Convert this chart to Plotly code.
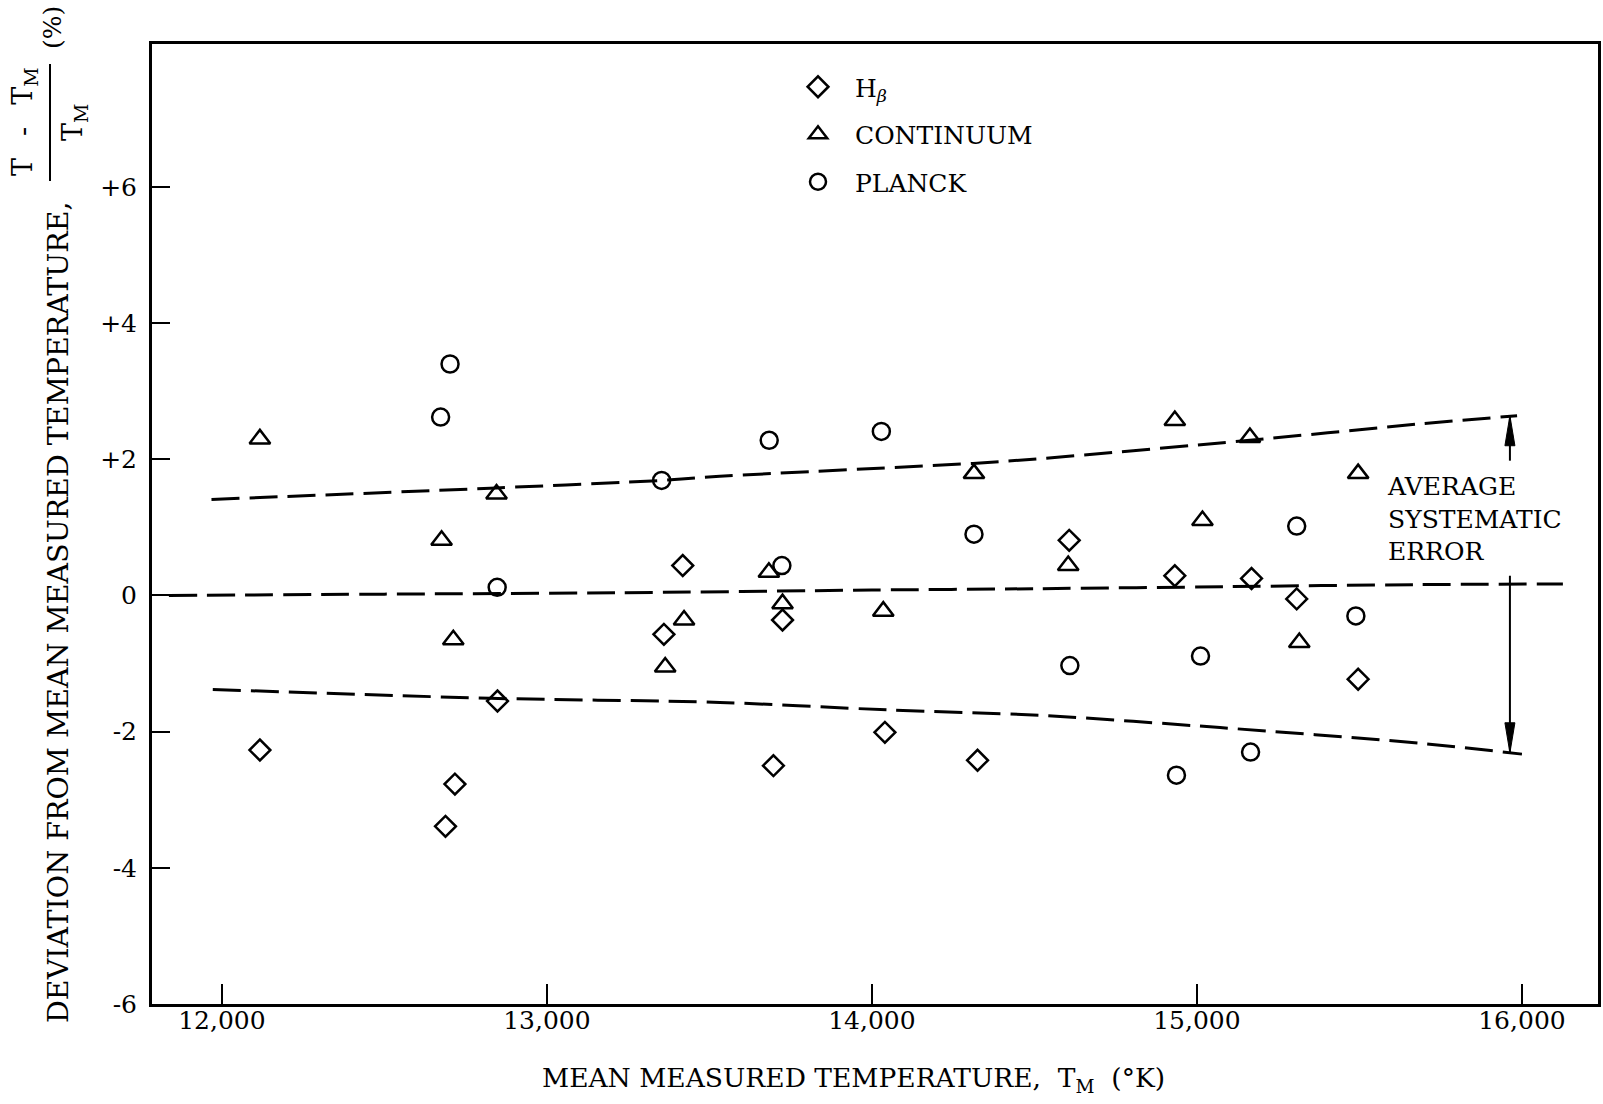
import plotly.graph_objects as go

# ---- measured points: mean temperature (K) and deviation (%) ----
hbeta_t = [12117, 12688, 12717, 12848, 13360, 13418, 13697, 13725, 14040,
           14325, 14607, 14932, 15168, 15307, 15496]
hbeta_dev = [-2.27, -3.39, -2.77, -1.55, -0.57, 0.44, -2.50, -0.36, -2.01,
             -2.42, 0.81, 0.29, 0.25, -0.05, -1.23]

cont_t = [12117, 12676, 12712, 12845, 13364, 13422, 13683, 13725, 14035,
          14314, 14604, 14932, 15017, 15163, 15315, 15496]
cont_dev = [2.30, 0.81, -0.65, 1.49, -1.05, -0.36, 0.34, -0.12, -0.23,
            1.79, 0.44, 2.57, 1.10, 2.32, -0.69, 1.79]

planck_t = [12673, 12702, 12847, 13353, 13684, 13723, 14029, 14314, 14609,
            14937, 15011, 15165, 15307, 15489]
planck_dev = [2.62, 3.40, 0.12, 1.69, 2.28, 0.44, 2.41, 0.90, -1.03,
              -2.64, -0.89, -2.30, 1.02, -0.30]

# ---- faired curves: mean and systematic-error band ----
upper_t = [11968, 12845, 13353, 13532, 14311, 14517, 15163, 15686, 15985]
upper_dev = [1.41, 1.58, 1.69, 1.75, 1.94, 2.01, 2.28, 2.52, 2.64]
mean_t = [11837, 12500, 13225, 14000, 14517, 15100, 15686, 16126]
mean_dev = [0.00, 0.02, 0.04, 0.08, 0.10, 0.13, 0.16, 0.17]
lower_t = [11972, 12825, 13532, 14046, 14517, 15071, 15686, 16000]
lower_dev = [-1.38, -1.51, -1.57, -1.68, -1.76, -1.94, -2.17, -2.33]

# ---- error-band arrows ----
arrow_t = 15963
arrow_up = (1.98, 2.64)      # tail, tip
arrow_down = (0.29, -2.31)   # tail, tip

# ---- axes ----
x_ticks = [12000, 13000, 14000, 15000, 16000]
x_ticktext = ["12,000", "13,000", "14,000", "15,000", "16,000"]
y_ticks = [-6, -4, -2, 0, 2, 4, 6]
y_ticktext = ["-6", "-4", "-2", "0", "+2", "+4", "+6"]
x_range = [11785, 16234]
y_range = [-6, 8.1]

FONT = "DejaVu Serif"
INK = "black"

W_PX, H_PX = 1603, 1104
L, R, T, B = 152, 1598, 44, 1004


def px(x):
    return (x - L) / (R - L)


def py(y):
    return (B - y) / (B - T)


fig = go.Figure()

dash = "28px,10px"
for xs, ys in [(upper_t, upper_dev), (mean_t, mean_dev), (lower_t, lower_dev)]:
    fig.add_trace(go.Scatter(
        x=xs, y=ys, mode="lines", showlegend=False, hoverinfo="skip",
        line=dict(color=INK, width=3, dash=dash, shape="spline", smoothing=0.8),
    ))

fig.add_trace(go.Scatter(
    x=hbeta_t, y=hbeta_dev, mode="markers", name="H<sub><i>β</i></sub>",
    legendgroup="a",
    marker=dict(symbol="diamond-open", size=16, color=INK, line=dict(width=2.5, color=INK)),
))
fig.add_trace(go.Scatter(
    x=cont_t, y=cont_dev, mode="markers", name="CONTINUUM",
    legendgroup="b",
    marker=dict(symbol="triangle-up-open", size=18, color=INK, line=dict(width=2.5, color=INK)),
))
fig.add_trace(go.Scatter(
    x=planck_t, y=planck_dev, mode="markers", name="PLANCK",
    legendgroup="c",
    marker=dict(symbol="circle-open", size=17, color=INK, line=dict(width=2.5, color=INK)),
))

shapes = []
# arrow stems
for tail, tip in (arrow_up, arrow_down):
    shapes.append(dict(type="line", xref="x", yref="y", x0=arrow_t, x1=arrow_t,
                       y0=tail, y1=tip, line=dict(color=INK, width=2)))
# narrow arrowheads, sized in pixels around the tips
shapes.append(dict(type="path", xref="x", yref="y", xsizemode="pixel", ysizemode="pixel",
                   xanchor=arrow_t, yanchor=arrow_up[1],
                   path="M 0 0 L -5 -30 L 5 -30 Z", fillcolor=INK, line=dict(color=INK, width=1)))
shapes.append(dict(type="path", xref="x", yref="y", xsizemode="pixel", ysizemode="pixel",
                   xanchor=arrow_t, yanchor=arrow_down[1],
                   path="M 0 0 L -5 30 L 5 30 Z", fillcolor=INK, line=dict(color=INK, width=1)))
# fraction bar of the y-axis label
shapes.append(dict(type="line", xref="paper", yref="paper", x0=px(50), x1=px(50),
                   y0=py(64), y1=py(181), line=dict(color=INK, width=2)))

annotations = [
    dict(text="AVERAGE<br>SYSTEMATIC<br>ERROR", xref="x", yref="y", x=15578, y=1.12,
         xanchor="left", yanchor="middle", align="left", showarrow=False,
         font=dict(family=FONT, size=25, color=INK)),
    dict(text="MEAN MEASURED TEMPERATURE,  T<sub>M</sub>  (°K)", xref="paper", yref="paper",
         x=px(853), y=py(1079), xanchor="center", yanchor="middle", showarrow=False,
         font=dict(family=FONT, size=26.5, color=INK)),
    dict(text="DEVIATION FROM MEAN MEASURED TEMPERATURE,", xref="paper", yref="paper",
         x=px(58), y=py(612), xanchor="center", yanchor="middle", textangle=-90,
         showarrow=False, font=dict(family=FONT, size=28.5, color=INK)),
    dict(text="T\u2002 -\u2002 T<sub>M</sub>", xref="paper", yref="paper",
         x=px(24), y=py(122), xanchor="center", yanchor="middle", textangle=-90,
         showarrow=False, font=dict(family=FONT, size=27, color=INK)),
    dict(text="T<sub>M</sub>", xref="paper", yref="paper",
         x=px(75), y=py(123), xanchor="center", yanchor="middle", textangle=-90,
         showarrow=False, font=dict(family=FONT, size=27, color=INK)),
    dict(text="(%)", xref="paper", yref="paper",
         x=px(52), y=py(28), xanchor="center", yanchor="middle", textangle=-90,
         showarrow=False, font=dict(family=FONT, size=25, color=INK)),
]

axis_common = dict(
    showline=True, linewidth=3, linecolor=INK, mirror=True,
    ticks="inside", tickwidth=2, tickcolor=INK,
    showgrid=False, zeroline=False,
    tickfont=dict(family=FONT, size=25, color=INK),
)

fig.update_layout(
    width=W_PX, height=H_PX,
    margin=dict(l=L, r=W_PX - R, t=T, b=H_PX - B, autoexpand=False),
    paper_bgcolor="white", plot_bgcolor="white",
    font=dict(family=FONT, color=INK),
    xaxis=dict(range=x_range, tickvals=x_ticks, ticktext=x_ticktext, ticklen=20,
               ticklabelstandoff=-8, **axis_common),
    yaxis=dict(range=y_range, tickvals=y_ticks, ticktext=y_ticktext, ticklen=18,
               ticklabelstandoff=7, **axis_common),
    legend=dict(x=px(781), y=py(64), xanchor="left", yanchor="top",
                font=dict(family=FONT, size=25, color=INK),
                itemwidth=64, tracegroupgap=12, bgcolor="rgba(0,0,0,0)",
                traceorder="grouped"),
    shapes=shapes,
    annotations=annotations,
)

fig.write_html("out.html")
